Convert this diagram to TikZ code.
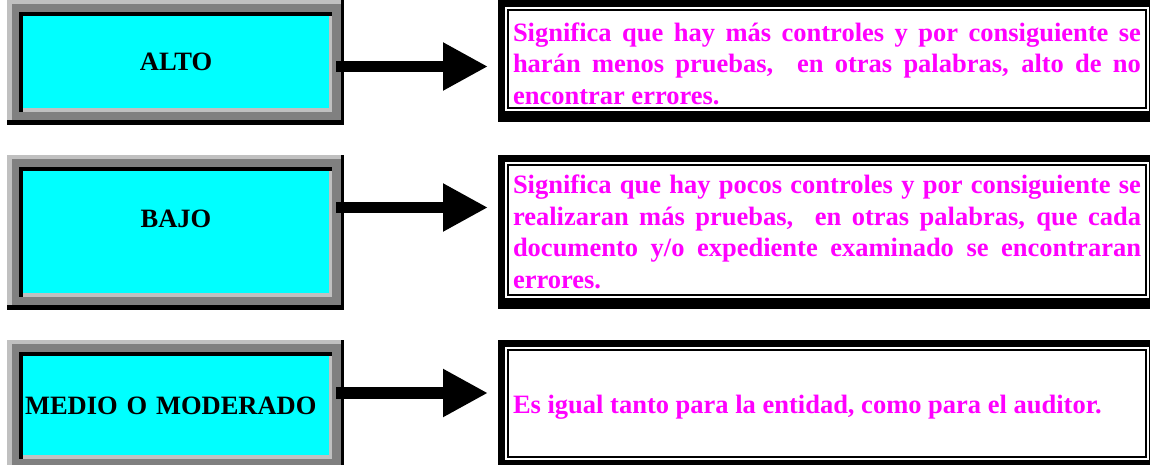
\documentclass[tikz,border=0pt]{standalone}
\usepackage{fontspec}
\setmainfont{Liberation Serif}
\usepackage{tikz}
\usetikzlibrary{arrows.meta,backgrounds,calc}

\definecolor{lgray}{RGB}{192,192,192}
\definecolor{dgray}{RGB}{128,128,128}
\definecolor{aqua}{RGB}{0,255,255}
\definecolor{fucsia}{RGB}{255,0,255}

\begin{document}
\begin{tikzpicture}[x=1pt,y=-1pt,
                nivel/.style={fill=aqua,minimum width=306pt,inner sep=2pt,font=\fontsize{26.5}{29}\selectfont\bfseries},
                texto/.style={draw,line width=2pt,fill=white,preaction={draw=white,line width=6pt},minimum width=638pt,text width=628pt,inner xsep=5pt,align=justify,text=fucsia,font=\fontsize{26.5}{31.5}\selectfont\bfseries},
                bajar/.style={execute at begin node={\rule{0pt}{#1}}},
                flecha/.style={line width=11.5pt,-{Triangle[length=45pt,width=45pt]},shorten <=7pt,shorten >=19pt}]
                \useasboundingbox (0,0) rectangle (1150,465);

                \node[nivel,minimum height=92pt] (alto) at (176,62) {ALTO};
                \node[nivel,minimum height=122pt,text height=18pt,text depth=28pt] (bajo) at (176,232) {BAJO};
                \node[nivel,minimum height=99pt,text width=302pt,align=left] (medio) at (176,405.5) {MEDIO O MODERADO};

                \node[texto,bajar=27.5pt,minimum height=98pt] (altoT) at (827,59) {Significa que hay más controles y por consiguiente se\linebreak harán menos pruebas,~ en otras palabras, alto de no\linebreak encontrar errores.};
                \node[texto,bajar=22pt,minimum height=130pt] (bajoT) at (827,230) {Significa que hay pocos controles y por consiguiente se\linebreak realizaran más pruebas,~ en otras palabras, que cada\linebreak documento y/o expediente examinado se encontraran\linebreak errores.};
                \node[texto,bajar=26pt,minimum height=107pt] (medioT) at (827,403.5) {Es igual tanto para la entidad, como para el auditor.};

                \begin{scope}[on background layer]
                    \foreach \n in {alto,bajo,medio}{
                        \fill[black] ($(\n.north west)+(-16,-16)$) rectangle ($(\n.south east)+(15,17)$);
                        \fill[lgray] ($(\n.north west)+(-16,-16)$) rectangle ($(\n.south east)+(12,12)$);
                        \fill[dgray] ($(\n.north west)+(-11,-12)$) rectangle ($(\n.south east)+(12,12)$);
                        \fill[black] ($(\n.north west)+(-4,-4)$) rectangle ($(\n.south east)+(3,4)$);
                        \fill[lgray] (\n.north west) rectangle ($(\n.south east)+(3,4)$);
                    }
                    \foreach \n in {altoT,bajoT,medioT}
                        \fill[black] ($(\n.north west)+(-9,-9)$) rectangle ($(\n.south east)+(3,13)$);
                \end{scope}

                \draw[flecha] ($(alto.east)+(0,4.5)$) -- ($(alto.east -| altoT.west)+(0,4.5)$);
                \draw[flecha] ($(bajo.east)+(0,-24.5)$) -- ($(bajo.east -| bajoT.west)+(0,-24.5)$);
                \draw[flecha] ($(medio.east)+(0,-12.5)$) -- ($(medio.east -| medioT.west)+(0,-12.5)$);
\end{tikzpicture}
\end{document}
